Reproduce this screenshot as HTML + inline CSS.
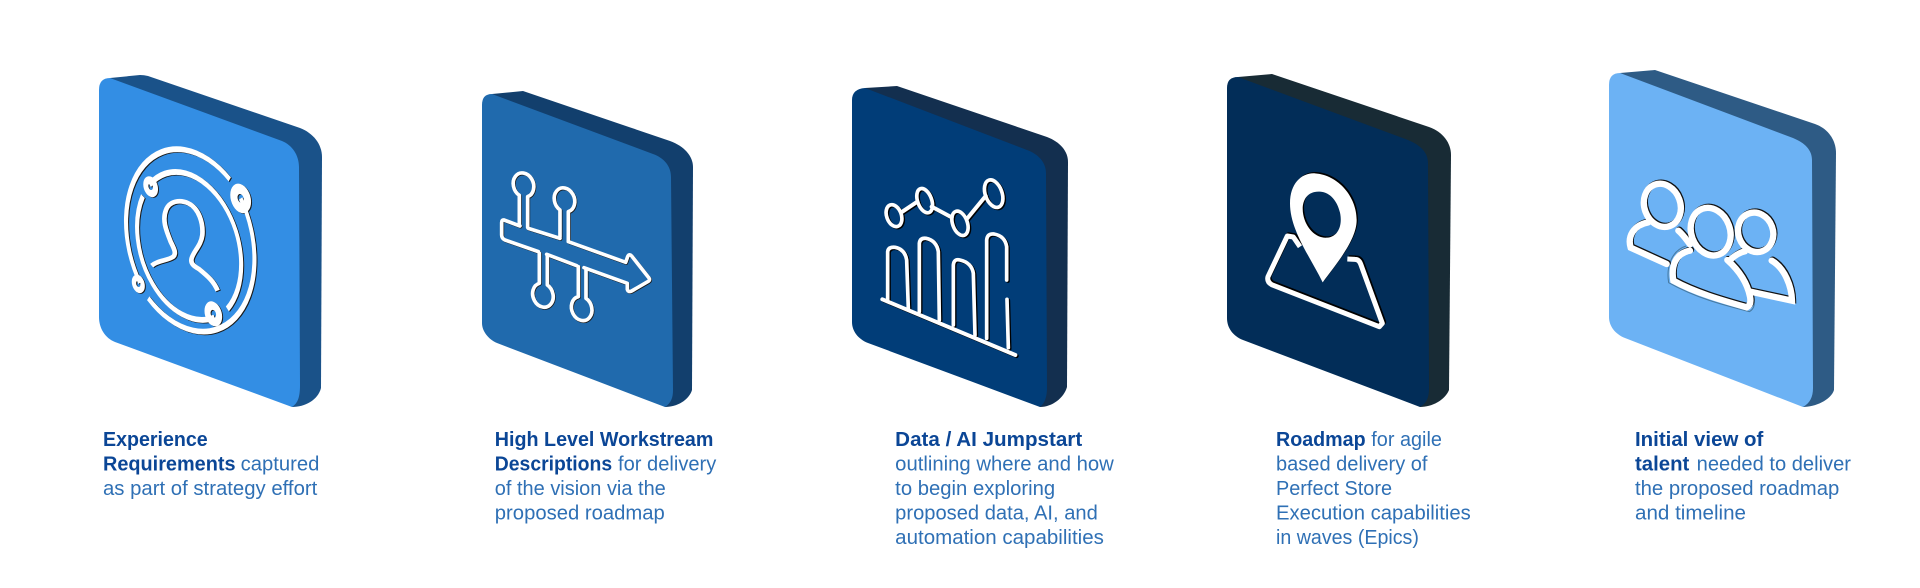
<!DOCTYPE html>
<html lang="en">
<head>
<meta charset="utf-8">
<title>Deliverables</title>
<style>
html,body{margin:0;padding:0;background:#fff;width:1920px;height:588px;overflow:hidden}
svg{display:block}
text{font-family:"Liberation Sans",sans-serif;font-size:20px}
.b{font-weight:700;fill:#0b4696}
.r{fill:#2f70b5}
</style>
</head>
<body>
<svg width="1920" height="588" viewBox="0 0 1920 588" xmlns="http://www.w3.org/2000/svg">
<defs>
<g id="i1" fill="none" stroke="currentColor" stroke-width="17">
  <g transform="matrix(.726 .245 0 1 339 552)">
    <path d="M152 -231A277 277 0 0 0 -219 170"/>
    <path d="M-185 208A277 277 0 0 0 197 -185"/>
    <path d="M-180 -134A218 218 0 1 1 142 160"/>
    <path d="M-207 -93A218 218 0 0 0 89 199"/>
    <circle cx="197" cy="-185" r="28" stroke-width="30"/>
    <circle cx="-175" cy="-129" r="20" stroke-width="21"/>
    <circle cx="-226" cy="175" r="18" stroke-width="18"/>
    <circle cx="84" cy="189" r="24" stroke-width="25"/>
  </g>
  <path stroke-width="14" d="M215 617C235 600 262 603 280 590C290 580 282 565 272 545C258 510 246 480 258 450C268 423 300 418 325 430C357 445 370 490 367 525C364 555 340 575 335 595C330 612 345 620 358 628C385 650 402 665 413 692"/>
</g>
<g id="i2" fill="none" stroke="currentColor" stroke-width="11" stroke-linejoin="round" stroke-linecap="round">
  <path d="M180 468L132 450Q125 449 125 458L125 495Q125 505 135 510L235 545M260 553L350 587M372 593L502 640L502 658Q505 668 515 663L565 634Q571 630 567 624L515 558Q507 550 503 560L497 577L325 515M300 505L205 475"/>
  <path d="M178 465L178 376A30 37 -20 1 1 203 380L203 472"/>
  <path d="M300 500L300 420A30 37 -20 1 1 325 425L325 512"/>
  <path d="M238 550L238 640A30 37 -20 1 0 262 645L262 556"/>
  <path d="M355 590L355 680A30 37 -20 1 0 378 685L378 597"/>
</g>
<g id="i3" fill="none" stroke="currentColor" stroke-width="11" stroke-linecap="round">
  <ellipse cx="162" cy="437" rx="22" ry="34" transform="rotate(-20 162 437)"/>
  <ellipse cx="254" cy="392" rx="21" ry="38" transform="rotate(-20 254 392)"/>
  <ellipse cx="360" cy="460" rx="22" ry="38" transform="rotate(-20 360 460)"/>
  <ellipse cx="461" cy="371" rx="25" ry="43" transform="rotate(-20 461 371)"/>
  <path d="M187 425L232 395M275 410L335 442M382 445L437 378" stroke-width="12"/>
  <path d="M127 688L526 855" stroke-width="12"/>
  <path d="M143 692L143 545Q145 530 165 532Q195 538 200 570L205 716"/>
  <path d="M238 725L238 520Q240 503 258 505Q290 512 295 545L298 750"/>
  <path d="M340 765L340 585Q342 565 360 570Q395 578 400 610L405 795"/>
  <path d="M440 805L440 510Q442 490 462 492Q495 498 500 530L500 630M501 688L505 833"/>
</g>
<g id="i4" stroke="currentColor">
  <path fill="currentColor" stroke="none" fill-rule="evenodd" d="M338 667C300 590 240 510 240 430C240 370 275 338 315 340C385 345 440 410 440 480C440 540 380 610 338 667ZM330 395C290 392 272 425 280 465C288 505 318 536 352 533C385 530 398 495 390 458C382 425 362 397 330 395Z"/>
  <path fill="none" stroke-width="15" stroke-linejoin="round" d="M270 560L250 531L232 528L174 650Q170 665 185 674L508 800L517 790L452 612Q447 598 435 598L412 597"/>
</g>
<g id="i5" fill="none" stroke="currentColor" stroke-width="19" stroke-linecap="round">
  <ellipse cx="217" cy="436" rx="54" ry="66" transform="rotate(-20 217 436)"/>
  <ellipse cx="362" cy="515" rx="58" ry="73" transform="rotate(-20 362 515)"/>
  <ellipse cx="497" cy="517" rx="52" ry="60" transform="rotate(-20 497 517)"/>
  <path d="M175 487C130 495 112 530 122 563L230 612M265 512C280 525 290 540 300 553"/>
  <path d="M300 572C255 580 243 620 250 662C320 700 400 722 470 742Q485 735 480 710C470 660 440 625 412 600"/>
  <path d="M422 598Q445 578 465 574M545 602C585 625 605 680 606 722L482 695"/>
</g>
</defs>

<!-- Tile 1 -->
<path fill="#1a5289" d="M110 78L140 75Q144 75 148 76L300 128C313 133 322 144 322 157L321 388C318 400 305 407 292 407Z"/>
<path fill="#338ee4" d="M99 90Q99 78 110 78L282 141C292 145 299 155 299 167L300 385C300 397 298 403 292 407L115 342C105 338 99 328 99 317Z"/>
<g transform="translate(80 60) scale(.33333)">
  <use href="#i1" x="3" y="2" style="color:#1a1a1a"/>
  <use href="#i1" style="color:#fff"/>
</g>

<!-- Tile 2 -->
<path fill="#123f6d" d="M492 94L523 91L670 141C684 146 693 156 693 167L692 390C689 400 677 407 665 407Z"/>
<path fill="#206aad" d="M482 105Q482 94 492 94L653 154C664 158 671 166 671 177L673 390C673 398 671 403 665 407L497 343C488 339 482 331 482 323Z"/>
<g transform="translate(460 70) scale(.33333)">
  <use href="#i2" x="2" y="2" style="color:#1a1a1a"/>
  <use href="#i2" style="color:#fff"/>
</g>

<!-- Tile 3 -->
<path fill="#132f4f" d="M865 88L897 86L1047 137C1060 142 1068 151 1068 162L1067 387C1064 398 1052 407 1040 407Z"/>
<path fill="#013d78" d="M852 100Q852 89 865 88L1027 150C1038 154 1046 162 1046 173L1047 387C1047 397 1045 403 1040 407L868 343C858 339 852 331 852 322Z"/>
<g transform="translate(840 70) scale(.33333)">
  <use href="#i3" x="4" y="3" style="color:#000"/>
  <use href="#i3" style="color:#fff"/>
</g>

<!-- Tile 4 -->
<path fill="#182b35" d="M1238 77L1272 74L1429 127C1443 132 1451 143 1451 155L1449 390C1445 400 1432 407 1420 407Z"/>
<path fill="#022d58" d="M1227 88Q1227 77 1238 77L1408 140C1420 145 1428 152 1428 163L1429 388C1429 397 1427 403 1420 407L1243 340C1233 336 1227 328 1227 318Z"/>
<g transform="translate(1210 60) scale(.33333)">
  <use href="#i4" x="4" y="-4" style="color:#000"/>
  <use href="#i4" style="color:#fff"/>
</g>

<!-- Tile 5 -->
<path fill="#2e5b85" d="M1620 73L1655 70L1815 124C1829 129 1836 141 1836 153L1834 390C1831 400 1815 407 1803 407Z"/>
<path fill="#6cb2f4" d="M1609 85Q1609 73 1620 73L1793 138C1805 143 1812 150 1812 160L1813 388C1813 397 1810 403 1803 407L1625 338C1615 334 1609 326 1609 317Z"/>
<g transform="translate(1590 60) scale(.33333)">
  <path fill="none" stroke="#47799f" stroke-width="3" d="M288 558C245 572 228 620 236 668C320 715 400 735 478 755Q498 745 492 710C482 660 455 625 425 595"/>
  <use href="#i5" x="3" y="-3" style="color:#111"/>
  <use href="#i5" style="color:#fff"/>
</g>

<!-- Captions -->
<text class="b" x="103" y="446" textLength="104.7" lengthAdjust="spacingAndGlyphs">Experience</text>
<text class="b" x="103" y="470.5" textLength="132.5" lengthAdjust="spacingAndGlyphs">Requirements</text>
<text class="r" x="240.6" y="470.5" textLength="78.8" lengthAdjust="spacingAndGlyphs">captured</text>
<text class="r" x="103" y="495" textLength="214.3" lengthAdjust="spacingAndGlyphs">as part of strategy effort</text>

<text class="b" x="494.8" y="446" textLength="218.6" lengthAdjust="spacingAndGlyphs">High Level Workstream</text>
<text class="b" x="494.8" y="470.5" textLength="117.3" lengthAdjust="spacingAndGlyphs">Descriptions</text>
<text class="r" x="618" y="470.5" textLength="98.3" lengthAdjust="spacingAndGlyphs">for delivery</text>
<text class="r" x="494.8" y="495" textLength="171" lengthAdjust="spacingAndGlyphs">of the vision via the</text>
<text class="r" x="494.8" y="519.5" textLength="170" lengthAdjust="spacingAndGlyphs">proposed roadmap</text>

<text class="b" x="895.2" y="446" textLength="187" lengthAdjust="spacingAndGlyphs">Data / AI Jumpstart</text>
<text class="r" x="895.2" y="470.5" textLength="218.6" lengthAdjust="spacingAndGlyphs">outlining where and how</text>
<text class="r" x="895.2" y="495" textLength="160" lengthAdjust="spacingAndGlyphs">to begin exploring</text>
<text class="r" x="895.2" y="519.5" textLength="202.6" lengthAdjust="spacingAndGlyphs">proposed data, AI, and</text>
<text class="r" x="895.2" y="544" textLength="208.7" lengthAdjust="spacingAndGlyphs">automation capabilities</text>

<text class="b" x="1276" y="446" textLength="89.6" lengthAdjust="spacingAndGlyphs">Roadmap</text>
<text class="r" x="1371.3" y="446" textLength="70.6" lengthAdjust="spacingAndGlyphs">for agile</text>
<text class="r" x="1276" y="470.5" textLength="151.5" lengthAdjust="spacingAndGlyphs">based delivery of</text>
<text class="r" x="1276" y="495" textLength="116" lengthAdjust="spacingAndGlyphs">Perfect Store</text>
<text class="r" x="1276" y="519.5" textLength="194.8" lengthAdjust="spacingAndGlyphs">Execution capabilities</text>
<text class="r" x="1276" y="544" textLength="142.9" lengthAdjust="spacingAndGlyphs">in waves (Epics)</text>

<text class="b" x="1635" y="446" textLength="128.3" lengthAdjust="spacingAndGlyphs">Initial view of</text>
<text class="b" x="1635" y="470.5" textLength="54.3" lengthAdjust="spacingAndGlyphs">talent</text>
<text class="r" x="1696.7" y="470.5" textLength="154.3" lengthAdjust="spacingAndGlyphs">needed to deliver</text>
<text class="r" x="1635" y="495" textLength="204.3" lengthAdjust="spacingAndGlyphs">the proposed roadmap</text>
<text class="r" x="1635" y="519.5" textLength="111" lengthAdjust="spacingAndGlyphs">and timeline</text>
</svg>
</body>
</html>
